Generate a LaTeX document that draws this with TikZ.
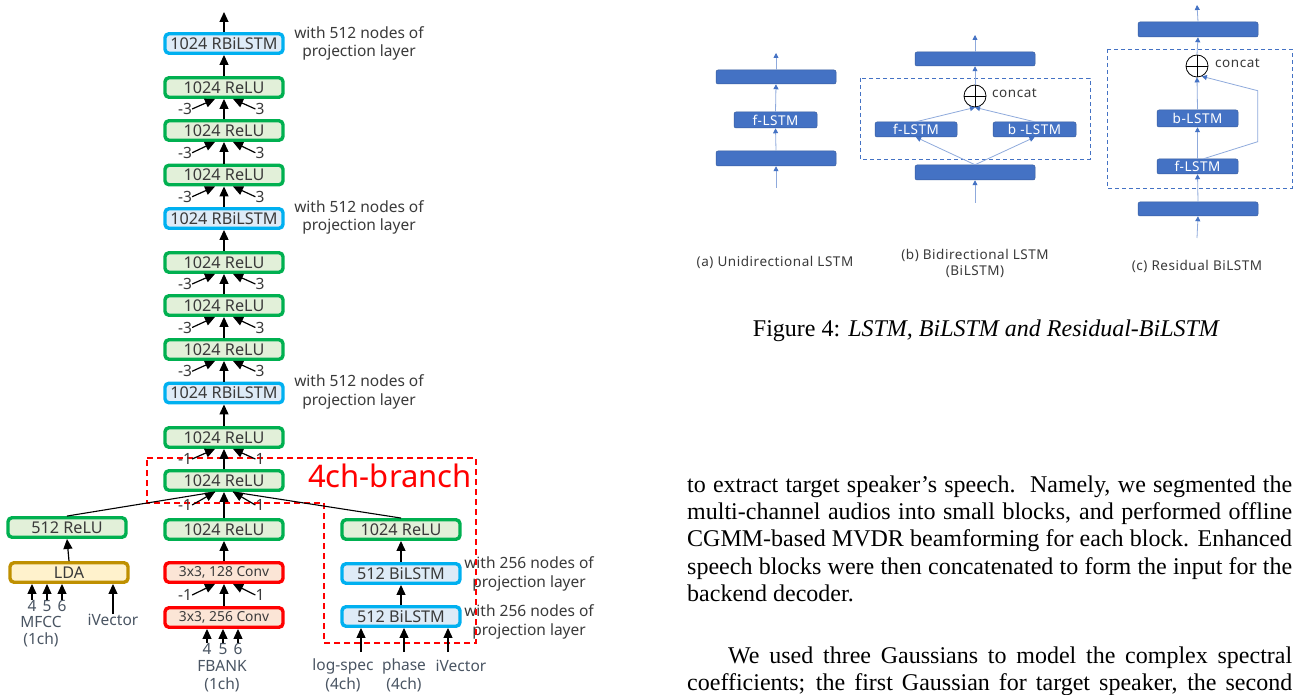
\documentclass[tikz,border=0pt]{standalone}
\usepackage{fontspec}
\setmainfont{Liberation Serif}
\newfontfamily\dsans{Noto Sans}
\newfontfamily\wsans[LetterSpace=4]{Noto Sans}
\usetikzlibrary{arrows.meta,calc}
\definecolor{gbord}{HTML}{00B050}
\definecolor{gfill}{HTML}{E2F0D9}
\definecolor{bbord}{HTML}{00B0F0}
\definecolor{bfill}{HTML}{DEEBF7}
\definecolor{rbord}{HTML}{FF0000}
\definecolor{rfill}{HTML}{FBE5D6}
\definecolor{ybord}{HTML}{BF9000}
\definecolor{yfill}{HTML}{FFF2CC}
\definecolor{txtc}{HTML}{3A3A3A}
\definecolor{inc}{HTML}{4A5563}
\definecolor{figblue}{HTML}{4472C4}
\definecolor{figline}{HTML}{8FAADC}
\tikzset{
  blk/.style={rounded corners=4pt, line width=3.4pt, minimum width=118pt, minimum height=19.5pt, inner sep=0pt, text=txtc, font=\dsans\fontsize{16.2}{18}\selectfont},
  relu/.style={blk, draw=gbord, fill=gfill},
  rbl/.style={blk, draw=bbord, fill=bfill},
  cnv/.style={blk, draw=rbord, fill=rfill, font=\dsans\fontsize{13.8}{16}\selectfont},
  lda/.style={blk, draw=ybord, fill=yfill},
  arr/.style={line width=1.2pt, -{Triangle[width=9pt,length=10pt]}},
  plainln/.style={line width=1.1pt},
  num/.style={inner sep=0pt, text=txtc, font=\dsans\fontsize{15.5}{18}\selectfont},
  side/.style={inner sep=0pt, align=center, text=txtc, font=\dsans\fontsize{15.5}{18.5}\selectfont},
  inlab/.style={inner sep=0pt, align=center, text=inc, font=\dsans\fontsize{15.5}{18}\selectfont},
  fbox/.style={fill=figblue, draw=figblue!80!black, line width=0.5pt, rounded corners=2pt, inner sep=0pt, text=white, font=\wsans\fontsize{13.5}{16}\selectfont},
  farr/.style={draw=figline, line width=0.8pt, -{Triangle[width=5pt,length=5pt,color=figblue]}},
  fdash/.style={draw=figblue, line width=0.8pt, dash pattern=on 4pt off 3pt},
  fcirc/.style={circle, draw=black, line width=0.8pt, minimum size=22pt, inner sep=0pt},
  fcap/.style={inner sep=0pt, align=center, text=txtc, font=\wsans\fontsize{13.5}{16}\selectfont},
  bodyln/.style={inner sep=0pt, anchor=base west, font=\fontsize{24}{27}\selectfont},
}
\newcommand\convup[5]{%
  \draw[arr] (#1.north) -- (#2.south);
  \path ($(#1.north)!0.5!(#2.south)$) coordinate (#5m);
  \node[num] (#5l) at ($(#5m)+(-39,0)$) {#3};
  \node[num] (#5r) at ($(#5m)+(36,0)$) {#4};
  \draw[arr] (#5l.east) -- ($(#2.south)+(-9,0)$);
  \draw[arr] (#5r.west) -- ($(#2.south)+(9,0)$);
}
\begin{document}
\begin{tikzpicture}[x=1pt,y=-1pt]
\useasboundingbox (0,0) rectangle (1301,695);
\fill[white] (0,0) rectangle (1301,695);

% ---------- main column ----------
\node[rbl] (r1) at (224,43.5) {1024 RBiLSTM};
\node[relu] (l1) at (224,87.5) {1024 ReLU};
\node[relu] (l2) at (224,130.5) {1024 ReLU};
\node[relu] (l3) at (224,175) {1024 ReLU};
\node[rbl] (r2) at (224,218.5) {1024 RBiLSTM};
\node[relu] (l4) at (224,262.5) {1024 ReLU};
\node[relu] (l5) at (224,305.5) {1024 ReLU};
\node[relu] (l6) at (224,349.5) {1024 ReLU};
\node[rbl] (r3) at (224,393) {1024 RBiLSTM};
\node[relu] (l7) at (224,437.5) {1024 ReLU};
\node[relu] (l8) at (224,480.5) {1024 ReLU};
\node[relu] (m) at (224,529.5) {1024 ReLU};
\node[cnv] (c1) at (224,572.5) {3x3, 128 Conv};
\node[cnv] (c2) at (224,617.5) {3x3, 256 Conv};
\node[relu] (lr) at (67,527.5) {512 ReLU};
\node[lda] (lda) at (69,572.5) {LDA};
\node[relu] (rr) at (401,529.5) {1024 ReLU};
\node[rbl] (b1) at (401,573.5) {512 BiLSTM};
\node[rbl] (b2) at (401,616.5) {512 BiLSTM};

% side labels
\node[side] (s1) at (359,43.5) {with 512 nodes of\\projection layer};
\node[side] (s2) at (359,217.5) {with 512 nodes of\\projection layer};
\node[side] (s3) at (359,392) {with 512 nodes of\\projection layer};
\node[side] (s4) at (529,574) {with 256 nodes of\\projection layer};
\node[side] (s5) at (529,622) {with 256 nodes of\\projection layer};

% 4ch-branch
\draw[red, line width=1.5pt, dash pattern=on 6pt off 4pt] (147,458) -- (476,458) -- (476,643) -- (324,643) -- (324,503) -- (147,503) -- cycle;
\node[inner sep=0pt, text=red, font=\dsans\fontsize{31}{34}\selectfont] (br) at (390,476) {4ch-branch};

% arrows main column
\coordinate (out) at (224,12);
\draw[arr] (r1.north) -- (out);
\draw[arr] (l1.north) -- (r1.south);
\convup{l2}{l1}{-3}{3}{ka}
\convup{l3}{l2}{-3}{3}{kb}
\convup{r2}{l3}{-3}{3}{kc}
\draw[arr] (l4.north) -- (r2.south);
\convup{l5}{l4}{-3}{3}{kd}
\convup{l6}{l5}{-3}{3}{ke}
\convup{r3}{l6}{-3}{3}{kf}
\draw[arr] (l7.north) -- (r3.south);
\convup{l8}{l7}{-1}{1}{kg}
\convup{m}{l8}{-1}{1}{kh}
\draw[plainln] (lr.north) -- ($(l8.south)+(-9,0)$);
\draw[plainln] (rr.north) -- ($(l8.south)+(9,0)$);
\draw[arr] (c1.north) -- (m.south);
\convup{c2}{c1}{-1}{1}{ki}
\draw[arr] (lda.north) -- (lr.south);
\draw[arr] (b2.north) -- (b1.south);
\draw[arr] (b1.north) -- (rr.south);

% left inputs
\node[inlab] (n4) at (32,606) {4};
\node[inlab] (n5) at (47,606) {5};
\node[inlab] (n6) at (62,606) {6};
\draw[arr] (n4.north) -- (n4.north |- lda.south);
\draw[arr] (n5.north) -- (n5.north |- lda.south);
\draw[arr] (n6.north) -- (n6.north |- lda.south);
\node[inlab] (mf) at (41,622) {MFCC};
\node[inlab] (mfc) at (41,640) {(1ch)};
\node[inlab] (iv1) at (113,620) {iVector};
\draw[arr] (iv1.north) -- (iv1.north |- lda.south);

% middle inputs
\node[inlab] (f4) at (207,649) {4};
\node[inlab] (f5) at (223,649) {5};
\node[inlab] (f6) at (238,649) {6};
\draw[arr] (f4.north) -- (f4.north |- c2.south);
\draw[arr] (f5.north) -- (f5.north |- c2.south);
\draw[arr] (f6.north) -- (f6.north |- c2.south);
\node[inlab] (fb) at (222,666) {FBANK};
\node[inlab] (fbc) at (222,685) {(1ch)};

% right inputs
\coordinate (t1) at (361,652);
\coordinate (t2) at (404,652);
\coordinate (t3) at (448,652);
\draw[arr] (t1) -- (t1 |- b2.south);
\draw[arr] (t2) -- (t2 |- b2.south);
\draw[arr] (t3) -- (t3 |- b2.south);
\node[inlab] (ls) at (343,666) {log-spec};
\node[inlab] (lsc) at (343,685) {(4ch)};
\node[inlab] (ph) at (404,666) {phase};
\node[inlab] (phc) at (404,685) {(4ch)};
\node[inlab] (iv2) at (461,666) {iVector};

% ---------- Figure 4 (a) ----------
\node[fbox, minimum width=120pt, minimum height=14pt] (a3) at (776,77) {};
\node[fbox, minimum width=83pt, minimum height=16pt] (a2) at (775.5,120) {f-LSTM};
\node[fbox, minimum width=120pt, minimum height=15pt] (a1) at (776,158.5) {};
\coordinate (ain) at (776,188);
\coordinate (aout) at (776,53);
\draw[farr] (ain) -- (a1.south);
\draw[farr] (a1.north) -- (a2.south);
\draw[farr] (a2.north) -- (a3.south);
\draw[farr] (a3.north) -- (aout);
\node[fcap] (acap) at (775,262) {(a) Unidirectional LSTM};

% ---------- Figure 4 (b) ----------
\draw[fdash] (860,78) rectangle (1090,159);
\node[fbox, minimum width=120pt, minimum height=14pt] (b3) at (975,59) {};
\node[fcirc] (bo) at (975,96) {};
\draw[line width=0.8pt] (bo.north) -- (bo.south) (bo.west) -- (bo.east);
\node[fcap, anchor=west] (bcon) at (992,93) {concat};
\node[fbox, minimum width=82pt, minimum height=15pt] (bf) at (916,129.5) {f-LSTM};
\node[fbox, minimum width=83pt, minimum height=15pt] (bb) at (1034.5,129.5) {b -LSTM};
\node[fbox, minimum width=120pt, minimum height=15pt] (b0) at (975,172.5) {};
\coordinate (bin) at (975,203);
\coordinate (bout) at (975,35);
\draw[farr] (bin) -- (b0.south);
\draw[farr] (b0.north) -- (bf.south);
\draw[farr] (b0.north) -- (bb.south);
\draw[farr] (bf.north) -- (bo.south);
\draw[farr] (bb.north) -- (bo.south);
\draw[farr] (bo.north) -- (b3.south);
\draw[farr] (b3.north) -- (bout);
\node[fcap] (bcap) at (975,263) {(b) Bidirectional LSTM\\(BiLSTM)};

% ---------- Figure 4 (c) ----------
\draw[fdash] (1107,49) rectangle (1292,188);
\node[fbox, minimum width=120pt, minimum height=15pt] (d3) at (1198,29.5) {};
\node[fcirc] (co) at (1197,66) {};
\draw[line width=0.8pt] (co.north) -- (co.south) (co.west) -- (co.east);
\node[fcap, anchor=west] (ccon) at (1215,63) {concat};
\node[fbox, minimum width=81pt, minimum height=17pt] (cb) at (1197.5,118.5) {b-LSTM};
\node[fbox, minimum width=81pt, minimum height=15pt] (cf) at (1197.5,166.5) {f-LSTM};
\node[fbox, minimum width=120pt, minimum height=14pt] (d0) at (1198,209) {};
\coordinate (cin) at (1197,238);
\coordinate (cout) at (1197,5);
\coordinate (rs1) at (1257.7,141.7);
\coordinate (rs2) at (1257.7,90.7);
\draw[farr] (cin) -- (d0.south);
\draw[farr] (d0.north) -- (cf.south);
\draw[farr] (cf.north) -- (cb.south);
\draw[farr] (cb.north) -- (co.south);
\draw[farr] (co.north) -- (d3.south);
\draw[farr] (d3.north) -- (cout);
\draw[farr] ($(cf.north)+(6,0)$) -- (rs1) -- (rs2) -- (co.-65);
\node[fcap] (ccap) at (1197,266) {(c) Residual BiLSTM};

% ---------- caption and text ----------
\node[inner sep=0pt, anchor=base, font=\fontsize{24}{27}\selectfont] (cap) at (986.5,336) {Figure 4: \textit{LSTM, BiLSTM and Residual-BiLSTM}};
\node[bodyln] (p1) at (687,492) {\makebox[605pt][s]{to extract target speaker’s speech.\ \ Namely, we segmented the}};
\node[bodyln] (p2) at (687,519.4) {\makebox[605pt][s]{multi-channel audios into small blocks, and performed offline}};
\node[bodyln] (p3) at (687,546.8) {\makebox[605pt][s]{CGMM-based MVDR beamforming for each block. Enhanced}};
\node[bodyln] (p4) at (687,574.2) {\makebox[605pt][s]{speech blocks were then concatenated to form the input for the}};
\node[bodyln] (p5) at (687,601.6) {backend decoder.};
\node[bodyln] (p6) at (728,663) {\makebox[564pt][s]{We used three Gaussians to model the complex spectral}};
\node[bodyln] (p7) at (687,690.4) {\makebox[605pt][s]{coefficients; the first Gaussian for target speaker, the second}};
\end{tikzpicture}
\end{document}
